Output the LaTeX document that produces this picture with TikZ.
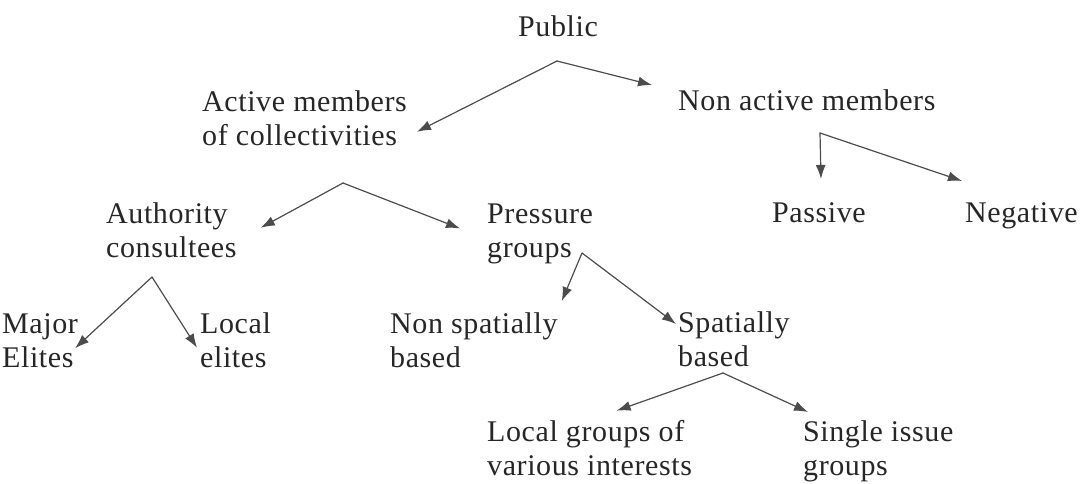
\documentclass[tikz,border=0pt]{standalone}
\usepackage{fontspec}
\setmainfont{Liberation Serif}[LetterSpace=2]
\usetikzlibrary{arrows.meta}
\tikzstyle{term} = [inner sep=0pt, anchor=base west, align=left, text=black!85]
\tikzstyle{arrow} = [draw=black!70, line width=1.2pt, line cap=round, -{Latex[length=14pt, width=10pt]}]

\begin{document}
\begin{tikzpicture}[x=1pt, y=-1pt, font=\fontsize{30}{34}\selectfont]

\useasboundingbox (0,0) rectangle (1082,483);

\node at (558, 36) (pub) [term, anchor=base] {Public};
\node at (202, 145) (act) [term] {Active members\\of collectivities};
\node at (678, 110) (nonact) [term] {Non active members};

\node at (772, 222) (pas) [term] {Passive};
\node at (965, 222) (neg) [term] {Negative};
\node at (106, 257) (auth) [term] {Authority\\consultees};
\node at (487, 257) (pres) [term] {Pressure\\groups};

\node at (2, 367) (maj) [term] {Major\\Elites};
\node at (200, 367) (loc) [term] {Local\\elites};
\node at (390, 367) (nonsp) [term] {Non spatially\\based};
\node at (678, 366) (spat) [term] {Spatially\\based};

\node at (487, 475) (locg) [term] {Local groups of\\various interests};
\node at (803, 475) (single) [term] {Single issue\\groups};

\coordinate (jPub) at (557, 61);
\coordinate (jNon) at (820, 133);
\coordinate (jAct) at (343, 183);
\coordinate (jAuth) at (152, 277);
\coordinate (jPres) at (582, 253);
\coordinate (jSpat) at (723, 373);

\draw [arrow] (jPub) -- ([shift={(10,14)}]act.east);
\draw [arrow] (jPub) -- ([shift={(-26,-4)}]nonact.north west);
\draw [arrow] (jNon) -- ([shift={(2,-23)}]pas.north);
\draw [arrow] (jNon) -- ([shift={(-3,-21)}]neg.north west);
\draw [arrow] (jAct) -- ([shift={(24,-2)}]auth.east);
\draw [arrow] (jAct) -- ([shift={(-27,-5)}]pres.west);
\draw [arrow] (jAuth) -- ([shift={(-3,8)}]maj.east);
\draw [arrow] (jAuth) -- ([shift={(-3,8)}]loc.west);
\draw [arrow] (jPres) -- ([shift={(4,-11)}]nonsp.north east);
\draw [arrow] (jPres) -- ([shift={(-2,13)}]spat.north west);
\draw [arrow] (jSpat) -- ([shift={(27,-9)}]locg.north);
\draw [arrow] (jSpat) -- ([shift={(5,-8)}]single.north west);

\end{tikzpicture}
\end{document}
